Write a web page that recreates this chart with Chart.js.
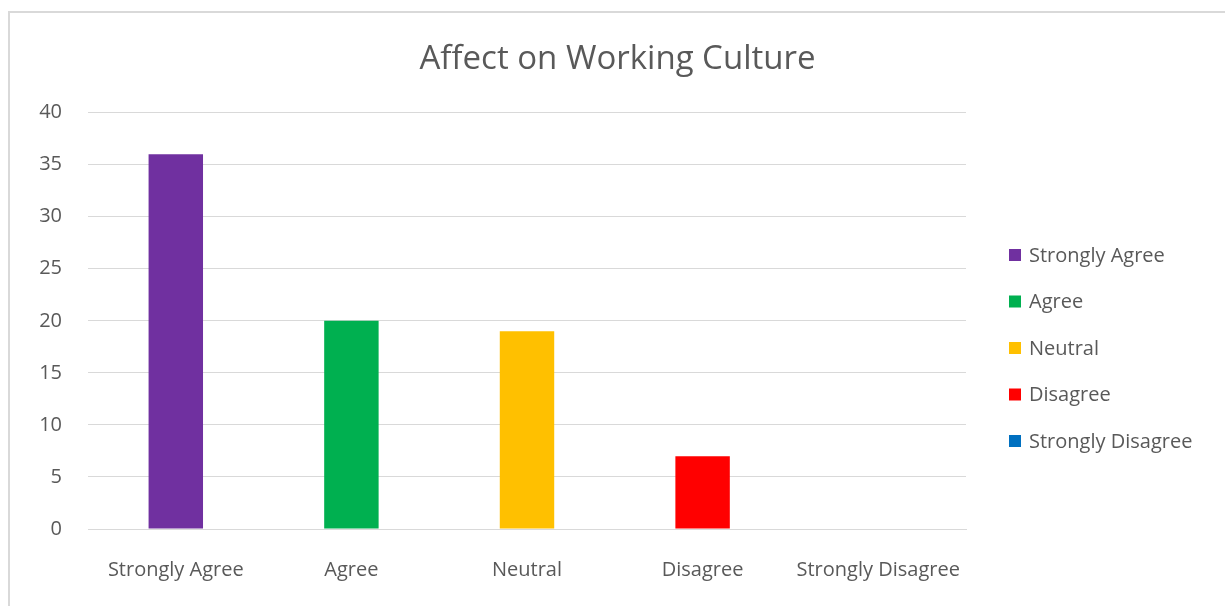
<!DOCTYPE html>
<html lang="en">
  <head>
    <meta charset="UTF-8" />
    <title>Affect on Working Culture</title>
    <script src="https://cdn.jsdelivr.net/npm/chart.js@4.4.1/dist/chart.umd.min.js"></script>
    <style>
      body { margin: 0; background: #fff; overflow: hidden; }
      .marco {
        position: absolute; left: 8px; top: 11px;
        width: 1400px; height: 800px;
        border-left: 2px solid #d9d9d9; border-top: 2px solid #d9d9d9;
      }
      .contenedor { position: absolute; left: 10px; top: 13px; width: 1215px; height: 593px; }
    </style>
  </head>
  <body>
    <div class="marco"></div>
    <div class="contenedor">
      <canvas id="grafico"></canvas>
    </div>
  </body>
  <script>
    var categorias = ["Strongly Agree", "Agree", "Neutral", "Disagree", "Strongly Disagree"];
    var valores = [36, 20, 19, 7, 0];
    var colores = ["#7030A0", "#00B050", "#FFC000", "#FF0000", "#0070C0"];
    var ticksY = [0, 5, 10, 15, 20, 25, 30, 35, 40];

    var fuente = "'Open Sans', sans-serif";
    var gris = "#595959";

    // caja a la derecha del area del grafico, ahi va la leyenda (una entrada por categoria)
    var leyenda = {
      id: "leyenda",
      beforeInit(chart) {
        const caja = {
          position: "right",
          weight: 0,
          fullSize: false,
          options: {},
          width: 0,
          height: 0,
          isHorizontal() { return false; },
          update(maxWidth, maxHeight) {
            this.width = 259;
            this.height = maxHeight;
          },
          draw() {
            const ctx = chart.ctx;
            const ds = chart.data.datasets[0];
            const x = this.left + 43;
            const y0 = 242;
            const paso = 46.5;
            ctx.save();
            ctx.font = "20px " + fuente;
            ctx.textBaseline = "middle";
            ctx.textAlign = "left";
            chart.data.labels.forEach(function (label, i) {
              const y = y0 + i * paso;
              ctx.fillStyle = ds.backgroundColor[i];
              ctx.fillRect(x, y - 6, 12, 12);
              ctx.fillStyle = gris;
              ctx.fillText(label, x + 20, y + 1);
            });
            ctx.restore();
          },
        };
        Chart.layouts.addBox(chart, caja);
      },
    };

    new Chart(document.getElementById("grafico"), {
      type: "bar",
      data: {
        labels: categorias,
        datasets: [
          {
            data: valores,
            backgroundColor: colores,
            barPercentage: 0.31,
            categoryPercentage: 1,
          },
        ],
      },
      options: {
        responsive: true,
        maintainAspectRatio: false,
        animation: false,
        layout: { padding: 0 },
        plugins: {
          legend: { display: false },
          tooltip: { enabled: false },
          title: {
            display: true,
            text: "Affect on Working Culture",
            color: gris,
            font: { family: fuente, size: 33, weight: "normal" },
            padding: { top: 27, bottom: 33 },
          },
        },
        scales: {
          x: {
            grid: { display: false },
            border: { color: "#d9d9d9", width: 1 },
            ticks: {
              color: gris,
              font: { family: fuente, size: 20 },
              padding: 21,
              maxRotation: 0,
              autoSkip: false,
            },
            afterFit(scale) { scale.height = 77; },
          },
          y: {
            min: 0,
            max: 40,
            afterBuildTicks(scale) {
              scale.ticks = ticksY.map(function (v) { return { value: v }; });
            },
            grid: { color: "#d9d9d9", drawTicks: false },
            border: { display: false },
            ticks: {
              color: gris,
              font: { family: fuente, size: 20 },
              padding: 26,
            },
            afterFit(scale) { scale.width = 78; },
          },
        },
      },
      plugins: [leyenda],
    });
  </script>
</html>
